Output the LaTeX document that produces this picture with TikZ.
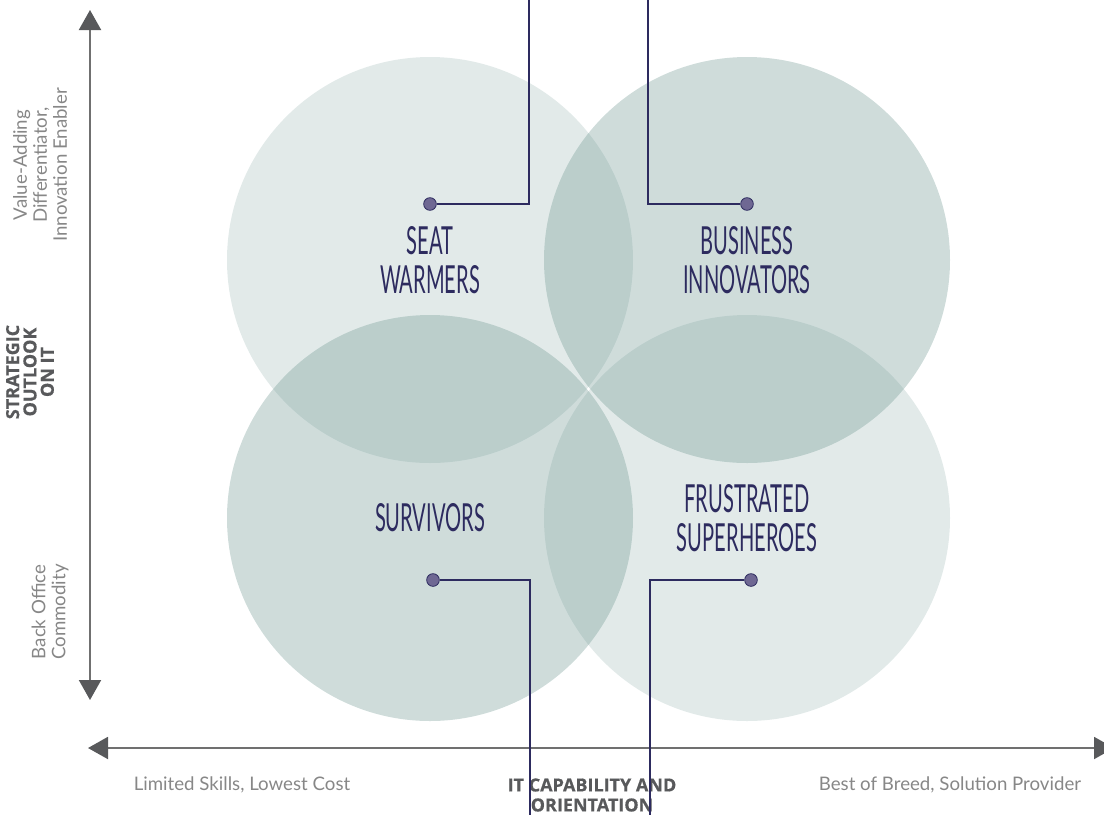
\documentclass[tikz,border=0pt]{standalone}
\usepackage{fontspec}
\setmainfont{Lato}
\newfontfamily\quadfont[FakeStretch=0.52]{Lato}
\newfontfamily\headfont[FakeBold=0.6]{Open Sans}
\usetikzlibrary{arrows.meta, positioning}
\definecolor{sage}{RGB}{95,140,134}
\definecolor{ink}{RGB}{45,43,95}
\definecolor{dotfill}{RGB}{111,104,147}
\definecolor{axisgray}{RGB}{112,112,112}
\definecolor{headgray}{RGB}{88,89,91}
\definecolor{labelgray}{RGB}{135,135,135}
\definecolor{titlegray}{RGB}{88,89,91}

\begin{document}
\begin{tikzpicture}[x=0.75pt, y=-0.75pt,
    quadrant/.style={circle, inner sep=0pt, minimum size=304.5pt, fill=sage,
        text=ink, text opacity=1, align=center,
        font=\quadfont\fontsize{29}{29}\selectfont},
    pale/.style={quadrant, fill opacity=0.18},
    deep/.style={quadrant, fill opacity=0.30},
    marker/.style={circle, draw=ink, fill=dotfill, line width=0.6pt,
        inner sep=0pt, minimum size=9.5pt},
    callout/.style={draw=ink, line width=0.9pt},
    axis/.style={draw=axisgray, line width=1.5pt,
        {Triangle[width=16.5pt, length=15pt, color=headgray]}-{Triangle[width=16.5pt, length=15pt, color=headgray]}},
    sidelabel/.style={text=labelgray, align=center,
        font=\fontsize{14}{15}\selectfont},
    sidetitle/.style={text=titlegray, align=center, inner sep=0pt,
        font=\headfont\bfseries\fontsize{13.5}{13}\selectfont}]
    \useasboundingbox (0,0) rectangle (1104,815);

    % Quadrants
    \node[pale] (seat) at (430,260) {SEAT\\WARMERS};
    \node[deep] (innov) at (747,260) {BUSINESS\\INNOVATORS};
    \node[deep] (surv) at (430,518) {SURVIVORS};
    \node[pale] (hero) at (747,518) {FRUSTRATED\\SUPERHEROES};

    % Axes
    \coordinate (vtop) at (90,10);
    \coordinate (vbot) at (90,700);
    \coordinate (hleft) at (88,748);
    \coordinate (hright) at (1114,748);
    \draw[axis] (vbot) -- (vtop);
    \draw[axis] (hleft) -- (hright);

    % Axis labels
    \node[sidelabel, rotate=90] (high) at (40,165) {Value-Adding\\Differentiator,\\Innovation Enabler};
    \node[sidetitle, rotate=90] (outlook) at (30,372) {STRATEGIC\\OUTLOOK\\ON IT};
    \node[sidelabel, rotate=90] (low) at (50,612) {Back Office\\Commodity};
    \node[sidelabel] (cheap) at (242,785) {Limited Skills, Lowest Cost};
    \node[sidetitle, font=\headfont\bfseries\fontsize{13.5}{15}\selectfont] (capab) at (592,795) {IT CAPABILITY AND\\ORIENTATION};
    \node[sidelabel] (best) at (950,785) {Best of Breed, Solution Provider};

    % Callouts
    \node[marker] (seatdot) at (430,204) {};
    \node[marker] (innovdot) at (747,204) {};
    \node[marker] (survdot) at (433,580) {};
    \node[marker] (herodot) at (751,580) {};
    \coordinate (seatend) at (529,0);
    \coordinate (innovend) at (648,0);
    \coordinate (survend) at (530,815);
    \coordinate (heroend) at (650,815);
    \draw[callout] (seatdot) -| (seatend);
    \draw[callout] (innovdot) -| (innovend);
    \draw[callout] (survdot) -| (survend);
    \draw[callout] (herodot) -| (heroend);
\end{tikzpicture}
\end{document}
